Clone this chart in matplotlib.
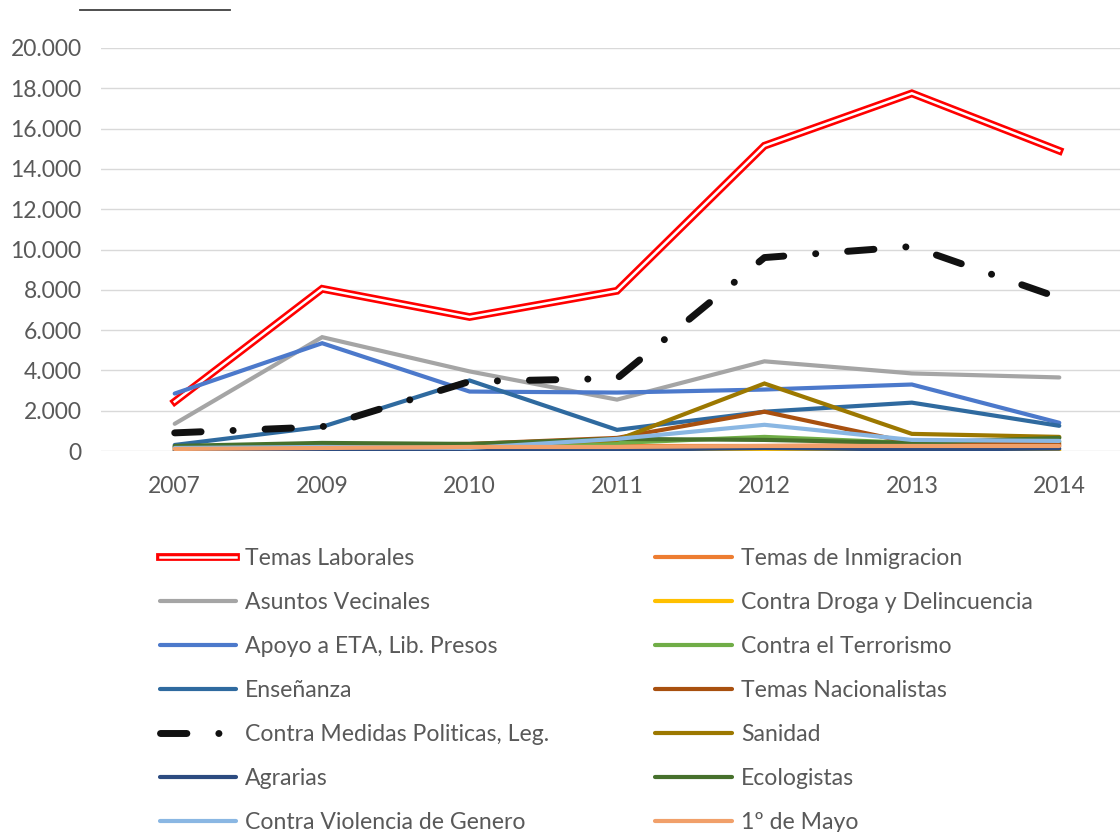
import matplotlib
matplotlib.use("Agg")
import matplotlib.pyplot as plt
import matplotlib.patheffects as pe
from matplotlib.ticker import FuncFormatter, MultipleLocator
from matplotlib.lines import Line2D

years = ["2007", "2009", "2010", "2011", "2012", "2013", "2014"]

temas_laborales = [2450, 8050, 6650, 7950, 15150, 17750, 14900]
temas_inmigracion = [150, 200, 250, 250, 250, 300, 250]
asuntos_vecinales = [1350, 5650, 3950, 2550, 4450, 3850, 3650]
contra_droga = [30, 30, 20, 50, 80, 50, 30]
apoyo_eta = [2850, 5350, 2950, 2900, 3050, 3300, 1400]
contra_terrorismo = [200, 300, 250, 400, 700, 400, 450]
ensenanza = [300, 1200, 3500, 1050, 1950, 2400, 1250]
temas_nacionalistas = [200, 300, 350, 650, 1950, 400, 350]
contra_medidas = [900, 1200, 3450, 3600, 9600, 10150, 7600]
sanidad = [100, 200, 250, 550, 3350, 850, 700]
agrarias = [30, 40, 40, 60, 150, 80, 120]
ecologistas = [250, 400, 350, 600, 550, 400, 650]
contra_violencia = [150, 200, 150, 600, 1300, 550, 500]
primero_mayo = [100, 150, 200, 200, 250, 250, 250]

plt.rcParams['font.family'] = ['Lato', 'DejaVu Sans']
plt.rcParams['lines.scale_dashes'] = False

fig = plt.figure(figsize=(11.2, 8.32), dpi=100)
ax = fig.add_axes([101/1120, 1-451/832, 1032/1120, 403/832])

x = list(range(len(years)))
lw = 3.0
series = [
    ("Temas Laborales", temas_laborales, "red"),
    ("Temas de Inmigracion", temas_inmigracion, "#ED7D31"),
    ("Asuntos Vecinales", asuntos_vecinales, "#A5A5A5"),
    ("Contra Droga y Delincuencia", contra_droga, "#FFC000"),
    ("Apoyo a ETA, Lib. Presos", apoyo_eta, "#4C79CB"),
    ("Contra el Terrorismo", contra_terrorismo, "#70AD47"),
    ("Enseñanza", ensenanza, "#2F6A9F"),
    ("Temas Nacionalistas", temas_nacionalistas, "#A8500F"),
    ("Contra Medidas Politicas, Leg.", contra_medidas, "#111111"),
    ("Sanidad", sanidad, "#9C7800"),
    ("Agrarias", agrarias, "#2C4B80"),
    ("Ecologistas", ecologistas, "#46702C"),
    ("Contra Violencia de Genero", contra_violencia, "#8AB7E3"),
    ("1º de Mayo", primero_mayo, "#F1A06A"),
]

handles = {}
for i, (name, vals, col) in enumerate(series):
    if name == "Temas Laborales":
        ln, = ax.plot(x, vals, color="white", lw=1.8, solid_joinstyle='miter',
                      path_effects=[pe.Stroke(linewidth=5.6, foreground="red"), pe.Normal()],
                      zorder=2 + i * 0.01, label=name)
    elif name.startswith("Contra Medidas"):
        ln, = ax.plot(x, vals, color=col, lw=5.0, dashes=(19, 23, 0.1, 23),
                      dash_capstyle='round', zorder=2 + i * 0.01, label=name)
    else:
        ln, = ax.plot(x, vals, color=col, lw=lw, solid_capstyle='round',
                      solid_joinstyle='miter', zorder=2 + i * 0.01, label=name)
    handles[name] = ln

ax.set_xlim(-0.5, 6.5)
ax.set_ylim(0, 20000)
ax.yaxis.set_major_locator(MultipleLocator(2000))
ax.yaxis.set_major_formatter(FuncFormatter(lambda v, p: f"{v:,.0f}".replace(",", ".")))
ax.set_xticks(x)
ax.set_xticklabels(years)
ax.grid(axis='y', color="#D9D9D9", lw=1.0)
ax.set_axisbelow(True)
for s in ax.spines.values():
    s.set_visible(False)
ax.tick_params(axis='both', length=0, labelsize=16.5, colors="#595959")
ax.tick_params(axis='y', pad=14)
ax.tick_params(axis='x', pad=18)

# short line at top-left (cropped title)
fig.add_artist(Line2D([80/1120, 230/1120], [1-10/832, 1-10/832], color="#404040", lw=1.3))

order = ["Temas Laborales", "Asuntos Vecinales", "Apoyo a ETA, Lib. Presos", "Enseñanza",
         "Contra Medidas Politicas, Leg.", "Agrarias", "Contra Violencia de Genero",
         "Temas de Inmigracion", "Contra Droga y Delincuencia", "Contra el Terrorismo",
         "Temas Nacionalistas", "Sanidad", "Ecologistas", "1º de Mayo"]
leg = fig.legend([handles[n] for n in order], order, ncol=2, loc='upper left',
                 bbox_to_anchor=(160/1120, 1-548/832), frameon=False, fontsize=16.6,
                 handlelength=3.3, handletextpad=0.4, labelspacing=1.0,
                 columnspacing=4.6, borderpad=0, borderaxespad=0, labelcolor="#595959")

fig.savefig("out.png", dpi=100)
